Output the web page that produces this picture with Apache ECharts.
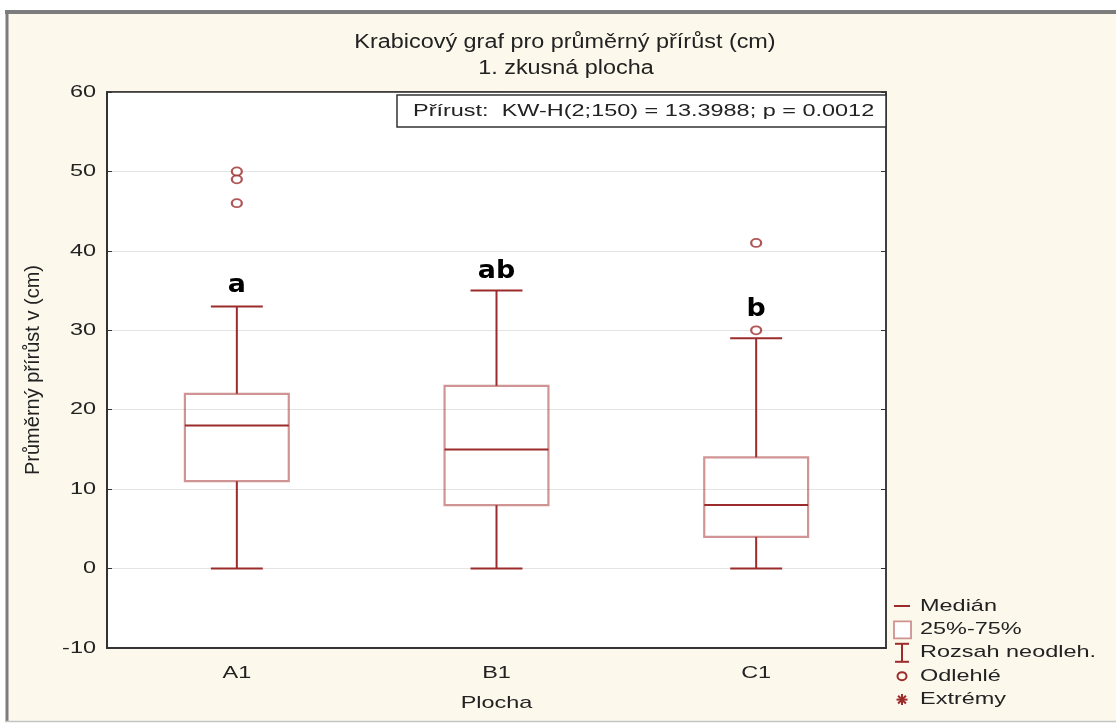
<!DOCTYPE html>
<html>
<head>
<meta charset="utf-8">
<script src="https://cdn.jsdelivr.net/npm/echarts@6/dist/echarts.min.js"></script>
<style>
  html, body { margin: 0; padding: 0; background: #ffffff; }
  #chart { width: 1116px; height: 724px; }
</style>
</head>
<body>
<div id="chart"></div>
<script>
// Plots and their box statistics: [min whisker, Q1, median, Q3, max whisker]
const categories = ['A1', 'B1', 'C1'];
const whiskerLow = [0, 0, 0];
const q1 = [11, 8, 4];
const median = [18, 15, 8];
const q3 = [22, 23, 14];
const whiskerHigh = [33, 35, 29];
// Outliers per plot: [category index, value]
const outliers = [[0, 46], [0, 49], [0, 50], [2, 30], [2, 41]];
// Group letters from the multiple comparison and the height they sit at
const groupLetters = ['a', 'ab', 'b'];
const letterY = [35.6, 37.4, 32.6];
const yTicks = [-10, 0, 10, 20, 30, 40, 50, 60];
const legendLabels = ['Medián', '25%-75%', 'Rozsah neodleh.', 'Odlehlé', 'Extrémy'];
const titleText = 'Krabicový graf pro průměrný přírůst (cm)';
const subtitleText = '1. zkusná plocha';
const statText = 'Přírust:  KW-H(2;150) = 13.3988; p = 0.0012';

const DARK = '#9c2b2b';
const BOX = 'rgba(170,60,60,0.55)';
const TXT = '#222222';
const FONT = '"Liberation Sans", Arial, sans-serif';
const WIDE = 1.38;   // horizontal stretch of all text in this figure

const boxData = categories.map((c, i) => [i, whiskerLow[i], q1[i], median[i], q3[i], whiskerHigh[i]]);

function renderBox(params, api) {
  const i = api.value(0);
  const center = api.coord([i, 0])[0];
  const band = api.size([1, 0])[0];
  const halfBox = band * 0.2;
  const halfCap = band * 0.1;
  const y = k => api.coord([i, api.value(k)])[1];
  const yLo = y(1), yQ1 = y(2), yMed = y(3), yQ3 = y(4), yHi = y(5);
  const line = (x1, y1, x2, y2) => ({
    type: 'line', shape: { x1, y1, x2, y2 },
    style: { stroke: DARK, lineWidth: 2 }
  });
  return {
    type: 'group',
    children: [
      line(center, yHi, center, yQ3),
      line(center, yQ1, center, yLo),
      line(center - halfCap, yHi, center + halfCap, yHi),
      line(center - halfCap, yLo, center + halfCap, yLo),
      {
        type: 'rect',
        shape: { x: center - halfBox, y: yQ3, width: halfBox * 2, height: yQ1 - yQ3 },
        style: { fill: 'rgba(255,255,255,0)', stroke: BOX, lineWidth: 2.2 }
      },
      line(center - halfBox, yMed, center + halfBox, yMed)
    ]
  };
}

function renderLetter(params, api) {
  const p = api.coord([api.value(0), api.value(1)]);
  return {
    type: 'text',
    x: p[0], y: p[1], scaleX: 1.12,
    style: {
      text: groupLetters[params.dataIndex],
      fill: '#000', font: 'bold 24px "DejaVu Sans", Arial, sans-serif',
      align: 'center', verticalAlign: 'middle'
    }
  };
}

// Stretched text element anchored at (x, y)
function wideText(x, y, text, size, align, extra) {
  return Object.assign({
    type: 'text', x: x, y: y, scaleX: WIDE, z: 20,
    style: { text: text, fill: TXT, font: size + 'px ' + FONT, align: align || 'left', verticalAlign: 'middle' }
  }, extra || {});
}

// Legend drawn as plain graphics in the lower right corner
const legendX = 893, legendY0 = 606, legendStep = 23.4;
const legendGraphics = [];
legendLabels.forEach((lab, k) => {
  legendGraphics.push(wideText(legendX + 27, legendY0 + k * legendStep, lab, 17, 'left'));
});
const sx = legendX + 9;
let cy = legendY0;
legendGraphics.push({ type: 'line', shape: { x1: sx - 8, y1: cy, x2: sx + 8, y2: cy }, style: { stroke: DARK, lineWidth: 2 } });
cy = legendY0 + legendStep;
legendGraphics.push({ type: 'rect', shape: { x: sx - 8, y: cy - 8, width: 17, height: 17 }, style: { fill: '#fff', stroke: BOX, lineWidth: 1.8 } });
cy = legendY0 + 2 * legendStep;
legendGraphics.push({ type: 'line', shape: { x1: sx, y1: cy - 9, x2: sx, y2: cy + 9 }, style: { stroke: DARK, lineWidth: 2 } });
legendGraphics.push({ type: 'line', shape: { x1: sx - 7, y1: cy - 9, x2: sx + 7, y2: cy - 9 }, style: { stroke: DARK, lineWidth: 2 } });
legendGraphics.push({ type: 'line', shape: { x1: sx - 7, y1: cy + 9, x2: sx + 7, y2: cy + 9 }, style: { stroke: DARK, lineWidth: 2 } });
cy = legendY0 + 3 * legendStep;
legendGraphics.push({ type: 'ellipse', shape: { cx: sx, cy: cy, rx: 4.5, ry: 4 }, style: { fill: 'none', stroke: DARK, lineWidth: 2 } });
cy = legendY0 + 4 * legendStep;
[0, 45, 90, 135].forEach(a => {
  const r = a * Math.PI / 180, d = 5.5;
  legendGraphics.push({ type: 'line', shape: { x1: sx - d * Math.cos(r), y1: cy - d * Math.sin(r), x2: sx + d * Math.cos(r), y2: cy + d * Math.sin(r) }, style: { stroke: DARK, lineWidth: 2 } });
});

const frameGraphics = [
  { type: 'rect', shape: { x: 7, y: 12, width: 1120, height: 709 }, style: { fill: '#fdf8ec', stroke: null }, z: -10 },
  { type: 'line', shape: { x1: 5, y1: 12, x2: 1116, y2: 12 }, style: { stroke: '#7c7c7c', lineWidth: 4 }, z: -5 },
  { type: 'line', shape: { x1: 7, y1: 10, x2: 7, y2: 722 }, style: { stroke: '#7c7c7c', lineWidth: 3 }, z: -5 },
  { type: 'line', shape: { x1: 5, y1: 721.5, x2: 1116, y2: 721.5 }, style: { stroke: '#c4c4c4', lineWidth: 1.5 }, z: -5 }
];

const statGraphics = [
  { type: 'rect', shape: { x: 397, y: 95, width: 489, height: 32 }, style: { fill: '#ffffff', stroke: '#333', lineWidth: 1.5 }, z: 10 },
  wideText(413, 111, statText, 17, 'left')
];

const titleGraphics = [
  Object.assign(wideText(565, 42, titleText, 20, 'center'), { scaleX: 1.17 }),
  Object.assign(wideText(566, 68, subtitleText, 20, 'center'), { scaleX: 1.17 })
];

const chart = echarts.init(document.getElementById('chart'), null, { renderer: 'canvas' });
const baseOption = {
  animation: false,
  backgroundColor: '#ffffff',
  grid: {
    left: 107, right: 230, top: 92, bottom: 76,
    show: true, backgroundColor: '#ffffff', borderColor: '#333', borderWidth: 1.5
  },
  xAxis: [{
    type: 'category', data: categories, boundaryGap: true,
    axisLine: { onZero: false, lineStyle: { color: '#333', width: 2 } },
    axisTick: { inside: true, length: 5, alignWithLabel: true, lineStyle: { color: '#333' } },
    axisLabel: { show: false },
    splitLine: { show: false }
  }, {
    type: 'category', data: categories, position: 'top', boundaryGap: true,
    axisLine: { onZero: false, lineStyle: { color: '#333', width: 1.5 } },
    axisTick: { inside: true, length: 5, alignWithLabel: true, lineStyle: { color: '#333' } },
    axisLabel: { show: false }
  }],
  yAxis: [{
    type: 'value', min: -10, max: 60, interval: 10,
    name: 'Průměrný přírůst v (cm)', nameLocation: 'middle', nameGap: 64,
    nameTextStyle: { fontFamily: FONT, fontSize: 20, color: TXT },
    axisLine: { show: true, onZero: false, lineStyle: { color: '#333', width: 2 } },
    axisTick: { show: true, inside: true, length: 5, lineStyle: { color: '#333' } },
    axisLabel: { show: false },
    splitLine: { show: true, lineStyle: { color: '#e4e4e4', width: 1 } }
  }, {
    type: 'value', min: -10, max: 60, interval: 10, position: 'right',
    axisLine: { show: true, onZero: false, lineStyle: { color: '#333', width: 1.5 } },
    axisTick: { show: true, inside: true, length: 5, lineStyle: { color: '#333' } },
    axisLabel: { show: false },
    splitLine: { show: false }
  }],
  series: [{
    type: 'custom', name: 'box',
    renderItem: renderBox,
    encode: { x: 0, y: [1, 2, 3, 4, 5] },
    data: boxData, z: 3
  }, {
    type: 'scatter', name: 'outliers',
    symbol: 'emptyCircle', symbolSize: [10, 8],
    itemStyle: { color: DARK, borderColor: DARK, borderWidth: 2 },
    data: outliers, z: 4
  }, {
    type: 'custom', name: 'letters',
    renderItem: renderLetter,
    data: categories.map((c, i) => [i, letterY[i]]), z: 5
  }]
};
chart.setOption(baseOption);

// Tick labels placed through the axes' own scales, drawn with the same stretch as the rest
const tickGraphics = [];
yTicks.forEach(v => {
  const py = chart.convertToPixel({ yAxisIndex: 0 }, v);
  tickGraphics.push(wideText(96, py, String(v), 17, 'right'));
});
categories.forEach((c, i) => {
  const px = chart.convertToPixel({ xAxisIndex: 0 }, c);
  tickGraphics.push(wideText(px, 673, c, 17, 'center'));
});
const midX = chart.convertToPixel({ xAxisIndex: 0 }, categories[1]);
tickGraphics.push(wideText(midX, 703, 'Plocha', 17, 'center'));

chart.setOption({
  graphic: frameGraphics.concat(statGraphics, titleGraphics, tickGraphics, legendGraphics)
});
</script>
</body>
</html>
